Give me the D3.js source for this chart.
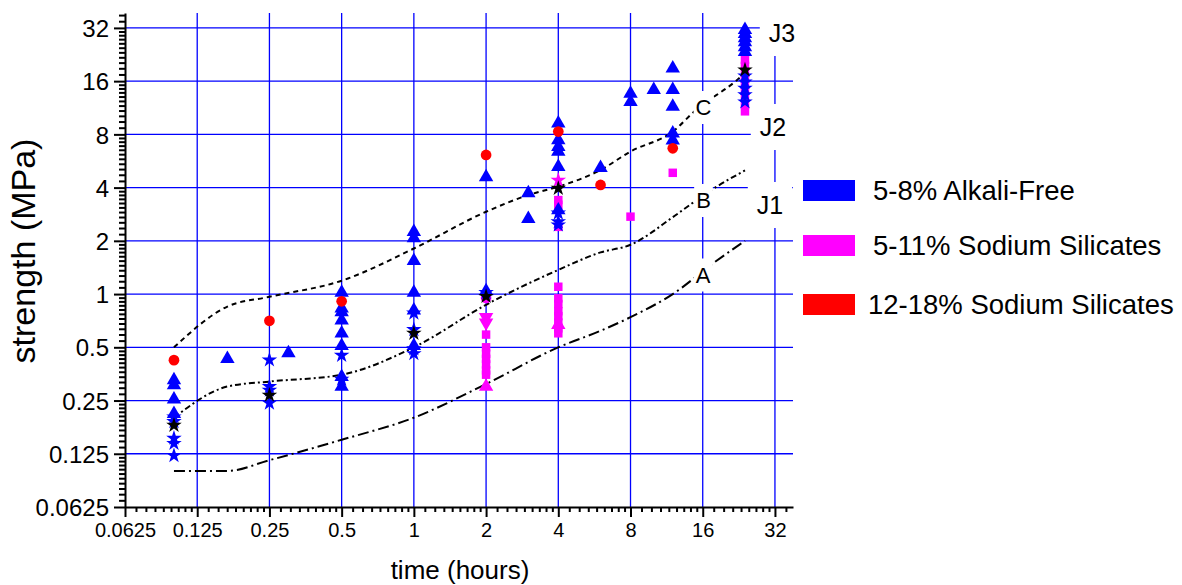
<!DOCTYPE html>
<html>
<head>
<meta charset="utf-8">
<script src="https://cdn.jsdelivr.net/npm/d3@7"></script>
<style>
  body { margin: 0; background: #fff; }
  svg { display: block; }
  text { font-family: "Liberation Sans", Arial, Helvetica, sans-serif; fill: #000; }
</style>
</head>
<body>
<svg id="chart" width="1182" height="585"></svg>
<script>
// ---- tick values and labels (log base 2 on both axes) ----
const tickValues = [0.0625, 0.125, 0.25, 0.5, 1, 2, 4, 8, 16, 32];
const tickLabels = ["0.0625", "0.125", "0.25", "0.5", "1", "2", "4", "8", "16", "32"];

// ---- measurements: [time (hours), strength (MPa)] ----
// 5-8% alkali-free accelerator
const alkaliFreeTriangles = [
  [0.1, 0.326], [0.1, 0.306], [0.1, 0.254], [0.1, 0.21],
  [0.167, 0.43], [0.3, 0.464],
  [0.5, 1.02], [0.5, 0.83], [0.5, 0.79], [0.5, 0.71], [0.5, 0.60], [0.5, 0.51], [0.5, 0.34], [0.5, 0.30],
  [1, 2.25], [1, 2.07], [1, 1.54], [1, 1.02], [1, 0.81], [1, 0.51],
  [2, 4.59], [2, 1.04],
  [3, 3.73], [3, 2.66],
  [4, 9.24], [4, 7.43], [4, 6.8], [4, 6.4], [4, 5.25], [4, 2.98],
  [6, 5.17], [8, 13.6], [8, 12.2], [10, 14.3],
  [12, 18.9], [12, 14.3], [12, 11.5], [12, 8.1], [12, 7.4],
  [24, 31.2], [24, 29.6], [24, 28.0], [24, 26.6], [24, 24.9], [24, 23.4]
];
const alkaliFreeStars = [
  [0.1, 0.202], [0.1, 0.19], [0.1, 0.153], [0.1, 0.143], [0.1, 0.122],
  [0.25, 0.424], [0.25, 0.30], [0.25, 0.286], [0.25, 0.242],
  [0.5, 0.45], [0.5, 0.33],
  [1, 0.78], [1, 0.63], [1, 0.49], [1, 0.46],
  [2, 1.02],
  [4, 2.87], [4, 2.56], [4, 2.46],
  [24, 17.1], [24, 15.8], [24, 14.6], [24, 13.4], [24, 12.2]
];
// 5-11% sodium silicates
const silicateLowSquares = [
  [2, 0.59], [2, 0.50], [2, 0.46], [2, 0.43], [2, 0.40], [2, 0.37], [2, 0.35],
  [4, 3.4], [4, 3.2], [4, 2.4], [4, 1.1], [4, 0.946], [4, 0.878], [4, 0.80],
  [4, 0.75], [4, 0.69], [4, 0.64], [4, 0.60],
  [8, 2.74], [12, 4.85],
  [24, 21.1], [24, 19.5], [24, 17.8], [24, 16.3], [24, 14.6], [24, 13.2], [24, 11.9], [24, 10.8]
];
const silicateLowTriangles = [[2, 0.30], [4, 0.67]];
const silicateLowDownTriangles = [[2, 0.74], [2, 0.69]];
const silicateLowCircles = [[2, 0.95]];
const silicateLowStars = [[4, 4.4]];
// 12-18% sodium silicates
const silicateHighCircles = [
  [0.1, 0.423], [0.25, 0.706], [0.5, 0.91], [2, 6.12], [4, 8.3], [6, 4.14], [12, 6.67]
];
// mean values
const meanStars = [[0.1, 0.181], [0.25, 0.268], [1, 0.60], [2, 0.97], [4, 3.96], [24, 18.5]];

// ---- boundary curves A, B, C ----
const curveA = [[0.1, 0.1], [0.167, 0.1], [0.25, 0.115], [0.5, 0.15], [1, 0.2], [2, 0.31],
  [4, 0.5], [6, 0.62], [8, 0.74], [12, 1.0], [18, 1.52], [24, 2.0]];
const curveB = [[0.1, 0.2], [0.167, 0.30], [0.25, 0.32], [0.5, 0.35], [1, 0.5], [2, 0.87],
  [4, 1.37], [6, 1.72], [8, 1.9], [12, 2.72], [14.4, 3.25], [18.3, 4.05], [24, 5.0]];
const curveC = [[0.1, 0.5], [0.167, 0.85], [0.25, 0.965], [0.5, 1.19], [1, 1.81], [2, 2.92],
  [3, 3.63], [4, 4.05], [6, 5.03], [8, 6.4], [12, 8.3], [15, 11.0], [22.2, 16.2], [24, 17.8]];

// ---- legend ----
const legendLabels = ["5-8% Alkali-Free", "5-11% Sodium Silicates", "12-18% Sodium Silicates"];
const legendColors = ["#0000ff", "#ff00ff", "#ff0000"];

// ---- layout ----
const svg = d3.select("#chart");
const plotLeft = 125, plotRight = 793, plotTop = 13, plotBottom = 507;

const x = d3.scaleLog().base(2).domain([0.0625, 32 * Math.pow(2, 0.25)]).range([plotLeft, plotRight]);
const y = d3.scaleLog().base(2).domain([0.0625, 32 * Math.pow(2, 0.28)]).range([plotBottom, plotTop]);

const BLUE = "#0000ff", MAGENTA = "#ff00ff", RED = "#ff0000";

// grid
const grid = svg.append("g");
grid.selectAll("line.v").data(tickValues.slice(1)).join("line")
  .attr("x1", d => x(d)).attr("x2", d => x(d))
  .attr("y1", plotTop).attr("y2", plotBottom)
  .attr("stroke", BLUE).attr("stroke-width", 1.3);
grid.selectAll("line.h").data(tickValues.slice(1)).join("line")
  .attr("y1", d => y(d)).attr("y2", d => y(d))
  .attr("x1", plotLeft).attr("x2", plotRight)
  .attr("stroke", BLUE).attr("stroke-width", 1.3);

// curves
const line = d3.line().x(d => x(d[0])).y(d => y(d[1])).curve(d3.curveMonotoneX);
const curves = [
  { data: curveA, dash: "11,4,2,4" },
  { data: curveB, dash: "6,3,2,3" },
  { data: curveC, dash: "5,4" }
];
svg.append("g").selectAll("path").data(curves).join("path")
  .attr("d", d => line(d.data))
  .attr("fill", "none").attr("stroke", "#000").attr("stroke-width", 2)
  .attr("stroke-dasharray", d => d.dash);

// labels with white background boxes
function boxedLabel(txt, cx, cy, size, padX, padY) {
  const g = svg.append("g");
  const rect = g.append("rect").attr("fill", "#fff");
  const t = g.append("text").attr("x", cx).attr("y", cy)
    .attr("text-anchor", "middle").attr("dominant-baseline", "central")
    .style("font-size", size + "px").text(txt);
  const b = t.node().getBBox();
  rect.attr("x", b.x - padX).attr("y", b.y - padY)
    .attr("width", b.width + 2 * padX).attr("height", b.height + 2 * padY);
}
boxedLabel("C", 703.5, 107.5, 22, 2, 4);
boxedLabel("B", 703.5, 200.5, 22, 2, 4);
boxedLabel("A", 703, 275, 22, 2, 4);
boxedLabel("J3", 782, 33, 25, 9, 9);
boxedLabel("J2", 773, 127, 25, 9, 9);
boxedLabel("J1", 770, 205, 25, 9, 9);

// markers
function drawMarkers(data, type, color, size, flip) {
  const sym = d3.symbol().type(type).size(size);
  svg.append("g").selectAll("path").data(data).join("path")
    .attr("d", sym)
    .attr("transform", d => `translate(${x(d[0])},${y(d[1])})${flip ? " rotate(180)" : ""}`)
    .attr("fill", color);
}
drawMarkers(silicateLowSquares, d3.symbolSquare, MAGENTA, 72);
drawMarkers(silicateLowTriangles, d3.symbolTriangle, MAGENTA, 90);
drawMarkers(silicateLowDownTriangles, d3.symbolTriangle, MAGENTA, 90, true);
drawMarkers(silicateLowCircles, d3.symbolCircle, MAGENTA, 90);
drawMarkers(silicateLowStars, d3.symbolStar, MAGENTA, 75);
drawMarkers(alkaliFreeTriangles, d3.symbolTriangle, BLUE, 90);
drawMarkers(alkaliFreeStars, d3.symbolStar, BLUE, 75);
drawMarkers(silicateHighCircles, d3.symbolCircle, RED, 90);
drawMarkers(meanStars, d3.symbolStar, "#000", 75);

// axes: minor ticks first, then major ticks with labels
function minorTicks(steps) {
  const out = [];
  for (let p = -4; p <= 5; p++) {
    const base = Math.pow(2, p);
    for (let k = 1; k < steps; k++) out.push(base * (1 + k / steps));
  }
  return out;
}
const xMinor = minorTicks(9).filter(v => v < x.domain()[1]);
const yMinor = minorTicks(11).filter(v => v < y.domain()[1]);

const xAxisG = svg.append("g").attr("transform", `translate(0,${plotBottom})`);
xAxisG.append("g").call(d3.axisBottom(x).tickValues(xMinor).tickFormat("").tickSizeInner(5).tickSizeOuter(0))
  .call(g => g.select(".domain").remove());
xAxisG.append("g").call(d3.axisBottom(x).tickValues(tickValues)
    .tickFormat((d, i) => tickLabels[i]).tickSizeInner(10).tickSizeOuter(0).tickPadding(6));

const yAxisG = svg.append("g").attr("transform", `translate(${plotLeft},0)`);
yAxisG.append("g").call(d3.axisLeft(y).tickValues(yMinor).tickFormat("").tickSizeInner(6).tickSizeOuter(0))
  .call(g => g.select(".domain").remove());
yAxisG.append("g").call(d3.axisLeft(y).tickValues(tickValues)
    .tickFormat((d, i) => tickLabels[i]).tickSizeInner(11).tickSizeOuter(0).tickPadding(5));

svg.selectAll(".tick line").attr("stroke", "#000").attr("stroke-width", 2);
svg.selectAll(".domain").attr("stroke", "#000").attr("stroke-width", 2);
xAxisG.selectAll("g").attr("font-family", null);
yAxisG.selectAll("g").attr("font-family", null);
xAxisG.selectAll("text").style("font-size", "20px");
yAxisG.selectAll("text").style("font-size", "24px").attr("dy", "0.36em");
svg.selectAll(".tick text").attr("fill", "#000");

// axis titles
svg.append("text").attr("x", 460).attr("y", 579).attr("text-anchor", "middle")
  .style("font-size", "26px").text("time (hours)");
svg.append("text").attr("transform", "translate(35,251) rotate(-90)").attr("text-anchor", "middle")
  .style("font-size", "34px").text("strength (MPa)");

// legend
const legend = svg.append("g");
legendLabels.forEach((lab, i) => {
  const cy = [190.5, 245.5, 304.5][i];
  legend.append("rect").attr("x", 803).attr("y", cy - 10.5).attr("width", 52).attr("height", 21)
    .attr("fill", legendColors[i]);
  legend.append("text").attr("x", 873 - (i === 2 ? 5 : 0)).attr("y", cy).attr("dominant-baseline", "central")
    .style("font-size", "27.5px").text(lab);
});
</script>
</body>
</html>
